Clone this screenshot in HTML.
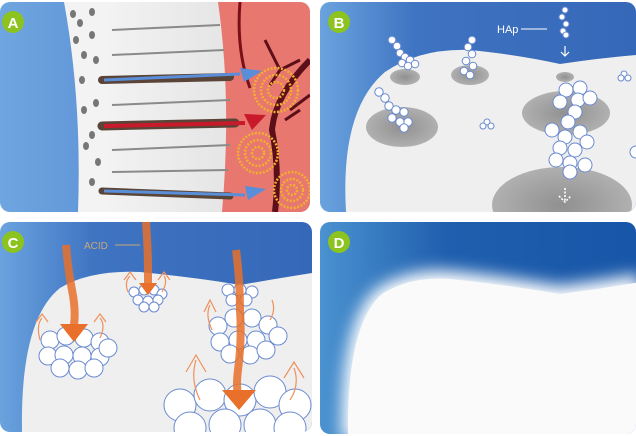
<!DOCTYPE html>
<html><head><style>
html,body{margin:0;padding:0;background:#fff;}
svg{display:block;}
text{font-family:"Liberation Sans",sans-serif;}
</style></head><body>
<svg width="636" height="436" viewBox="0 0 636 436" xmlns="http://www.w3.org/2000/svg">
<defs>
<linearGradient id="bl" x1="0" y1="0" x2="1" y2="0"><stop offset="0" stop-color="#6fa6e0"/><stop offset="1" stop-color="#3f72c4"/></linearGradient>
<linearGradient id="bB" x1="0" y1="0" x2="1" y2="0"><stop offset="0" stop-color="#6aa3de"/><stop offset="0.3" stop-color="#3f74c2"/><stop offset="1" stop-color="#3568b8"/></linearGradient>
<linearGradient id="bD" x1="0" y1="0" x2="1" y2="0"><stop offset="0" stop-color="#4a92d0"/><stop offset="0.4" stop-color="#1f5fae"/><stop offset="1" stop-color="#1756a8"/></linearGradient>
<linearGradient id="gr" x1="0" y1="0" x2="1" y2="0"><stop offset="0" stop-color="#f2f2f2"/><stop offset="1" stop-color="#dcdcdc"/></linearGradient>
<radialGradient id="hole" cx="0.5" cy="0.5" r="0.5"><stop offset="0" stop-color="#909090"/><stop offset="1" stop-color="#b0b0b0"/></radialGradient>
<filter id="soft"><feGaussianBlur stdDeviation="8"/></filter>
<clipPath id="cA"><rect x="0" y="2" width="310" height="210" rx="10"/></clipPath>
<clipPath id="cB"><rect x="320" y="2" width="316" height="210" rx="10"/></clipPath>
<clipPath id="cC"><rect x="0" y="222" width="312" height="210" rx="10"/></clipPath>
<clipPath id="cD"><rect x="320" y="222" width="316" height="212" rx="10"/></clipPath>
</defs>

<!-- Panel A -->
<g clip-path="url(#cA)">
<rect x="0" y="2" width="310" height="210" fill="url(#bl)"/>
<path d="M64,2 Q82,100 78,212 L310,212 L310,2Z" fill="#f3f3f3"/>
<path d="M110,2 L110,212 L310,212 L310,2Z" fill="url(#gr)"/>
<path d="M218,2 Q232,100 222,212 L310,212 L310,2Z" fill="#e8776f"/>
<g stroke="#8a8a8a" stroke-width="2">
<line x1="112" y1="30" x2="220" y2="25"/><line x1="112" y1="55" x2="224" y2="50"/>
<line x1="112" y1="105" x2="230" y2="100"/><line x1="112" y1="150" x2="230" y2="145"/>
<line x1="112" y1="172" x2="228" y2="170"/>
</g>
<g fill="#777">
<ellipse cx="73" cy="14" rx="3" ry="4"/><ellipse cx="92" cy="12" rx="3" ry="4"/><ellipse cx="80" cy="23" rx="3" ry="4"/>
<ellipse cx="76" cy="40" rx="3" ry="4"/><ellipse cx="92" cy="35" rx="3" ry="4"/><ellipse cx="84" cy="55" rx="3" ry="4"/>
<ellipse cx="96" cy="60" rx="3" ry="4"/><ellipse cx="82" cy="80" rx="3" ry="4"/><ellipse cx="84" cy="110" rx="3" ry="4"/>
<ellipse cx="96" cy="103" rx="3" ry="4"/><ellipse cx="92" cy="135" rx="3" ry="4"/><ellipse cx="86" cy="146" rx="3" ry="4"/>
<ellipse cx="98" cy="162" rx="3" ry="4"/><ellipse cx="92" cy="182" rx="3" ry="4"/>
</g>
<path d="M240,2 Q236,50 250,88" stroke="#7a0f18" stroke-width="3" fill="none"/>
<path d="M310,60 Q275,95 272,130 Q280,170 275,212" stroke="#5c0f18" stroke-width="6" fill="none"/>
<path d="M265,40 L280,70 L300,60 M280,70 L270,85 M300,110 L285,120 M310,95 L290,110" stroke="#5c0f18" stroke-width="3" fill="none"/>
<path d="M102,80 L230,77" stroke="#5a4438" stroke-width="8" stroke-linecap="round"/>
<path d="M104,80 L240,74" stroke="#5a8ed8" stroke-width="3"/><path d="M240,68 L262,71 L244,82Z" fill="#5a8ed8"/>
<path d="M102,126 L235,123" stroke="#5a4438" stroke-width="9" stroke-linecap="round"/>
<path d="M104,126 L245,123" stroke="#c81a2a" stroke-width="4"/><path d="M244,114 L266,115 L252,130Z" fill="#c81a2a"/>
<path d="M102,191 L230,196" stroke="#5a4438" stroke-width="7" stroke-linecap="round"/>
<path d="M104,191 L245,195" stroke="#5a8ed8" stroke-width="3"/><path d="M245,186 L266,189 L248,200Z" fill="#5a8ed8"/>
<g fill="none" stroke="#f0b030" stroke-width="2.5" stroke-dasharray="2 1.5">
<circle cx="276" cy="90" r="22"/><circle cx="276" cy="90" r="15"/><circle cx="276" cy="90" r="8"/>
<circle cx="258" cy="153" r="20"/><circle cx="258" cy="153" r="13"/><circle cx="258" cy="153" r="6"/>
<circle cx="292" cy="190" r="18"/><circle cx="292" cy="190" r="11"/><circle cx="292" cy="190" r="5"/>
</g>
</g>
<circle cx="13" cy="22" r="11" fill="#8cc31e"/><text x="13" y="28" font-size="15" font-weight="bold" fill="#fff" text-anchor="middle">A</text>

<!-- Panel B -->
<g clip-path="url(#cB)">
<rect x="320" y="2" width="316" height="210" fill="url(#bB)"/>
<path d="M346,212 Q340,110 385,72 Q420,48 470,50 Q520,55 560,64 Q600,58 636,55 L636,212Z" fill="#efefef"/>
<ellipse cx="405" cy="77" rx="15" ry="8" fill="url(#hole)"/>
<ellipse cx="470" cy="75" rx="19" ry="10" fill="url(#hole)"/>
<ellipse cx="565" cy="77" rx="9" ry="5" fill="url(#hole)"/>
<ellipse cx="402" cy="127" rx="36" ry="20" fill="url(#hole)"/>
<ellipse cx="566" cy="113" rx="44" ry="22" fill="url(#hole)"/>
<ellipse cx="562" cy="205" rx="70" ry="38" fill="url(#hole)"/>
<g fill="#fff" stroke="#6a8ad0" stroke-width="1">
<circle cx="392" cy="40" r="3.8"/><circle cx="397" cy="46" r="3.8"/><circle cx="400" cy="53" r="3.8"/><circle cx="405" cy="57" r="3.8"/><circle cx="402" cy="63" r="3.8"/><circle cx="410" cy="60" r="3.8"/><circle cx="415" cy="64" r="3.8"/><circle cx="408" cy="66" r="3.8"/>
<circle cx="472" cy="40" r="3.8"/><circle cx="468" cy="47" r="3.8"/><circle cx="472" cy="54" r="3.8"/><circle cx="466" cy="61" r="3.8"/><circle cx="473" cy="66" r="3.8"/><circle cx="464" cy="71" r="3.8"/><circle cx="470" cy="75" r="3.8"/>
<circle cx="379" cy="92" r="4.2"/><circle cx="385" cy="98" r="4.2"/><circle cx="389" cy="106" r="4.2"/><circle cx="396" cy="110" r="4.2"/><circle cx="404" cy="112" r="4.2"/><circle cx="392" cy="118" r="4.2"/><circle cx="400" cy="122" r="4.2"/><circle cx="408" cy="122" r="4.2"/><circle cx="404" cy="128" r="4.2"/>
<circle cx="565" cy="10" r="3"/><circle cx="562" cy="17" r="3"/><circle cx="566" cy="24" r="3"/><circle cx="563" cy="31" r="3"/><circle cx="566" cy="35" r="3"/>
<circle cx="487" cy="122" r="3"/><circle cx="483" cy="126" r="3"/><circle cx="491" cy="126" r="3"/>
<circle cx="624" cy="74" r="3"/><circle cx="628" cy="78" r="3"/><circle cx="621" cy="78" r="3"/>
<circle cx="566" cy="90" r="7"/><circle cx="580" cy="88" r="7"/><circle cx="560" cy="102" r="7"/><circle cx="578" cy="100" r="7"/><circle cx="590" cy="98" r="7"/><circle cx="575" cy="112" r="7"/><circle cx="568" cy="122" r="7"/><circle cx="552" cy="130" r="7"/><circle cx="565" cy="137" r="7"/><circle cx="580" cy="132" r="7"/><circle cx="587" cy="142" r="7"/><circle cx="560" cy="148" r="7"/><circle cx="575" cy="150" r="7"/><circle cx="556" cy="160" r="7"/><circle cx="570" cy="163" r="7"/><circle cx="585" cy="165" r="7"/><circle cx="570" cy="172" r="7"/>
<circle cx="636" cy="152" r="6"/>
</g>
<text x="497" y="33" font-size="11" fill="#fff">HAp</text>
<line x1="521" y1="29" x2="547" y2="29" stroke="#fff" stroke-width="1"/>
<path d="M565,46 L565,56 M561,52 L565,56 L569,52" stroke="#fff" stroke-width="1.2" fill="none"/>
<path d="M565,188 L565,202 M559,196 L565,202 L571,196" stroke="#fff" stroke-width="1.6" fill="none" stroke-dasharray="2 1.5"/>
</g>
<circle cx="339" cy="22" r="11" fill="#8cc31e"/><text x="339" y="28" font-size="15" font-weight="bold" fill="#fff" text-anchor="middle">B</text>

<!-- Panel C -->
<g clip-path="url(#cC)">
<rect x="0" y="222" width="312" height="210" fill="url(#bB)"/>
<path d="M22,432 Q20,320 60,288 Q90,270 140,272 Q200,278 240,285 Q280,278 312,273 L312,432Z" fill="#efefef"/>
<g fill="#fff" stroke="#6a8ad0" stroke-width="1">
<circle cx="50" cy="340" r="9"/><circle cx="66" cy="336" r="9"/><circle cx="84" cy="338" r="9"/><circle cx="100" cy="342" r="9"/><circle cx="48" cy="356" r="9"/><circle cx="64" cy="355" r="9"/><circle cx="82" cy="356" r="9"/><circle cx="100" cy="357" r="9"/><circle cx="108" cy="348" r="9"/><circle cx="60" cy="368" r="9"/><circle cx="78" cy="370" r="9"/><circle cx="94" cy="368" r="9"/>
<circle cx="134" cy="292" r="5"/><circle cx="144" cy="290" r="5"/><circle cx="154" cy="290" r="5"/><circle cx="162" cy="294" r="5"/><circle cx="138" cy="300" r="5"/><circle cx="148" cy="301" r="5"/><circle cx="158" cy="300" r="5"/><circle cx="144" cy="307" r="5"/><circle cx="154" cy="307" r="5"/>
<circle cx="228" cy="290" r="6"/><circle cx="240" cy="290" r="6"/><circle cx="252" cy="292" r="6"/><circle cx="232" cy="300" r="6"/><circle cx="246" cy="300" r="6"/>
<circle cx="218" cy="326" r="9"/><circle cx="234" cy="318" r="9"/><circle cx="252" cy="318" r="9"/><circle cx="268" cy="325" r="9"/><circle cx="278" cy="336" r="9"/><circle cx="220" cy="342" r="9"/><circle cx="238" cy="340" r="9"/><circle cx="256" cy="340" r="9"/><circle cx="230" cy="354" r="9"/><circle cx="250" cy="355" r="9"/><circle cx="266" cy="350" r="9"/>
<circle cx="180" cy="405" r="16"/><circle cx="210" cy="395" r="16"/><circle cx="240" cy="400" r="16"/><circle cx="270" cy="392" r="16"/><circle cx="295" cy="405" r="16"/><circle cx="190" cy="428" r="16"/><circle cx="225" cy="425" r="16"/><circle cx="260" cy="425" r="16"/><circle cx="290" cy="428" r="16"/>
</g>
<g fill="none" stroke="#f0905a" stroke-width="1.2">
<path d="M40,340 Q36,325 42,318 M36,322 L42,314 L48,322"/><path d="M100,338 Q106,325 100,318 M94,322 L100,314 L106,322"/>
<path d="M128,292 Q124,282 130,276 M124,280 L130,272 L136,280"/><path d="M162,292 Q168,282 164,276 M158,280 L164,272 L170,280"/>
<path d="M200,400 Q190,380 196,360 M186,372 L196,355 L206,372"/><path d="M290,400 Q300,385 294,368 M284,378 L294,362 L304,378"/>
<path d="M212,330 Q205,315 210,305 M204,312 L210,300 L216,312"/><path d="M270,320 Q276,310 272,300"/>
</g>
<g stroke="#e8702a" stroke-width="8" fill="none" opacity="0.85">
<path d="M66,245 Q68,270 72,290 Q76,310 74,325"/>
<path d="M146,222 Q148,250 148,270 L148,285"/>
<path d="M236,250 Q240,280 240,310 Q242,340 238,370 Q236,385 238,395"/>
</g>
<path d="M60,324 L88,324 L74,342Z" fill="#e8702a"/>
<path d="M139,283 L157,283 L148,295Z" fill="#e8702a"/>
<path d="M222,390 L256,390 L239,410Z" fill="#e8702a"/>
<text x="84" y="249" font-size="10" fill="#c8a878">ACID</text>
<line x1="115" y1="245" x2="140" y2="245" stroke="#c8a878" stroke-width="1"/>
</g>
<circle cx="13" cy="242" r="11" fill="#8cc31e"/><text x="13" y="248" font-size="15" font-weight="bold" fill="#fff" text-anchor="middle">C</text>

<!-- Panel D -->
<g clip-path="url(#cD)">
<rect x="320" y="222" width="316" height="212" fill="url(#bD)"/>
<path d="M342,440 Q340,318 378,288 Q410,268 450,271 Q500,276 560,286 Q600,281 640,274 L640,440Z" fill="#fff" filter="url(#soft)"/>
<path d="M348,440 Q346,325 382,294 Q410,276 450,279 Q500,284 560,294 Q600,289 640,282 L640,440Z" fill="#fafafa"/>
</g>
<circle cx="339" cy="242" r="11" fill="#8cc31e"/><text x="339" y="248" font-size="15" font-weight="bold" fill="#fff" text-anchor="middle">D</text>
</svg>
</body></html>
